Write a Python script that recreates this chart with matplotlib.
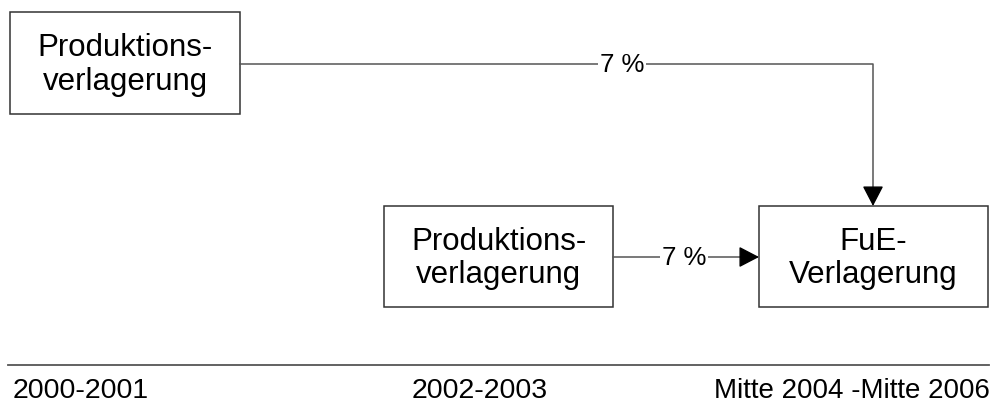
import matplotlib.pyplot as plt
from matplotlib.patches import Rectangle

plt.rcParams['font.family'] = ['Liberation Sans', 'DejaVu Sans']

box_labels = ['Produktions-\nverlagerung', 'Produktions-\nverlagerung', 'FuE-\nVerlagerung']
flow_labels = ['7 %', '7 %']
period_labels = ['2000-2001', '2002-2003', 'Mitte 2004 -Mitte 2006']

# box geometry in pixel coordinates (x0, y0, x1, y1)
boxes = [(10, 13, 240, 115), (384, 207, 613, 308), (759, 207, 988, 308)]

fig = plt.figure(figsize=(10, 4.14), dpi=100)
ax = fig.add_axes([0, 0, 1, 1])
ax.set_xlim(0, 1000)
ax.set_ylim(414, 0)
ax.axis('off')

for (x0, y0, x1, y1), lab in zip(boxes, box_labels):
    ax.add_patch(Rectangle((x0, y0), x1 - x0, y1 - y0, fill=False, ec='#333333', lw=1.1))
    ax.text((x0 + x1) / 2, (y0 + y1) / 2 + 1, lab, ha='center', va='center',
            fontsize=22.5, linespacing=1.15)

arrow = dict(arrowstyle='-|>,head_length=1.25,head_width=0.65', color='black', lw=1,
             shrinkA=0, shrinkB=0)

# top flow: box 1 -> right, then down to FuE box
ytop = 65
xdown = 873
ax.plot([boxes[0][2], xdown, xdown], [ytop, ytop, boxes[2][1] - 15], color='#555555', lw=1.1)
ax.annotate('', xy=(xdown, boxes[2][1]), xytext=(xdown, boxes[2][1] - 18), arrowprops=arrow)
ax.text(622, ytop, flow_labels[0], ha='center', va='center', fontsize=18.5,
        bbox=dict(fc='white', ec='none', pad=1.5))

# bottom flow: box 2 -> FuE box
ymid = 258
ax.plot([boxes[1][2], boxes[2][0] - 15], [ymid, ymid], color='#555555', lw=1.1)
ax.annotate('', xy=(boxes[2][0], ymid), xytext=(boxes[2][0] - 18, ymid), arrowprops=arrow)
ax.text(684, ymid, flow_labels[1], ha='center', va='center', fontsize=18.5,
        bbox=dict(fc='white', ec='none', pad=1.5))

# timeline
ax.plot([8, 989], [366, 366], color='#555555', lw=1.3)
ax.text(13, 391, period_labels[0], ha='left', va='center', fontsize=20.5)
ax.text(480, 391, period_labels[1], ha='center', va='center', fontsize=20.5)
ax.text(990, 391, period_labels[2], ha='right', va='center', fontsize=20)

fig.savefig('out.png', dpi=100)
